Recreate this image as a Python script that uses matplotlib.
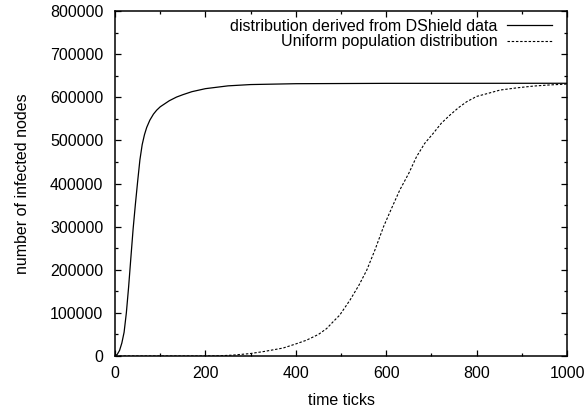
import numpy as np
import matplotlib.pyplot as plt
from matplotlib.ticker import MultipleLocator

plt.rcParams['font.family'] = ['Liberation Sans', 'DejaVu Sans']

# infection curves
dshield_t = [0, 5, 10, 15, 20, 25, 30, 35, 40, 45, 50, 55, 60, 65, 70, 77, 85, 92, 100, 110,
             120, 136, 150, 170, 200, 250, 300, 400, 600, 1000]
dshield_n = [0, 4000, 13000, 30000, 55000, 100000, 160000, 228000, 295000, 352000, 405000,
             455000, 490000, 513000, 530000, 547000, 561000, 570000, 578000, 585000, 592000,
             600500, 606000, 613000, 620000, 626500, 629500, 631500, 632300, 632500]

uniform_t = [0, 200, 232, 260, 298, 330, 372, 400, 423, 450, 468, 483, 497, 520, 540, 557,
             575, 594, 612, 630, 650, 667, 685, 704, 722, 741, 760, 778, 800, 825, 852, 890,
             926, 960, 1000]
uniform_n = [0, 0, 500, 2000, 5500, 10500, 18500, 28000, 36400, 50000, 63500, 80000, 94700,
             130000, 165000, 199400, 246000, 299900, 343000, 385000, 424000, 462200, 493000,
             516400, 540000, 558800, 576000, 589700, 602000, 609000, 616800, 622000, 626000,
             628500, 630700]

fig = plt.figure(figsize=(5.87, 4.09), dpi=100)
ax = fig.add_axes([0.196, 0.1296, 0.77, 0.8434])

ax.plot(dshield_t, dshield_n, color='black', lw=0.9, label='distribution derived from DShield data')
ax.plot(uniform_t, uniform_n, color='black', lw=0.8, linestyle=(0, (2.2, 1.6)),
        label='Uniform population distribution')

ax.set_xlim(0, 1000)
ax.set_ylim(0, 800000)
ax.xaxis.set_major_locator(MultipleLocator(200))
ax.xaxis.set_minor_locator(MultipleLocator(100))
ax.yaxis.set_major_locator(MultipleLocator(100000))
ax.yaxis.set_minor_locator(MultipleLocator(50000))
ax.tick_params(which='both', direction='in', top=True, right=True, width=0.9, labelsize=11.5)
ax.tick_params(which='major', length=4.3)
ax.tick_params(which='minor', length=2.2)
ax.tick_params(axis='x', pad=7.5)
ax.tick_params(axis='y', pad=8.5)
for s in ax.spines.values():
    s.set_linewidth(1.1)

ax.set_xlabel('time ticks', fontsize=11.5, labelpad=8)
ax.set_ylabel('number of infected nodes', fontsize=11.5, labelpad=14)

ax.legend(loc='upper right', bbox_to_anchor=(0.967, 0.978), frameon=False,
          markerfirst=False, fontsize=11.5, handlelength=2.8, handletextpad=0.6,
          labelspacing=0.05, borderaxespad=0.0, borderpad=0.0)

fig.savefig('out.png', dpi=100)
